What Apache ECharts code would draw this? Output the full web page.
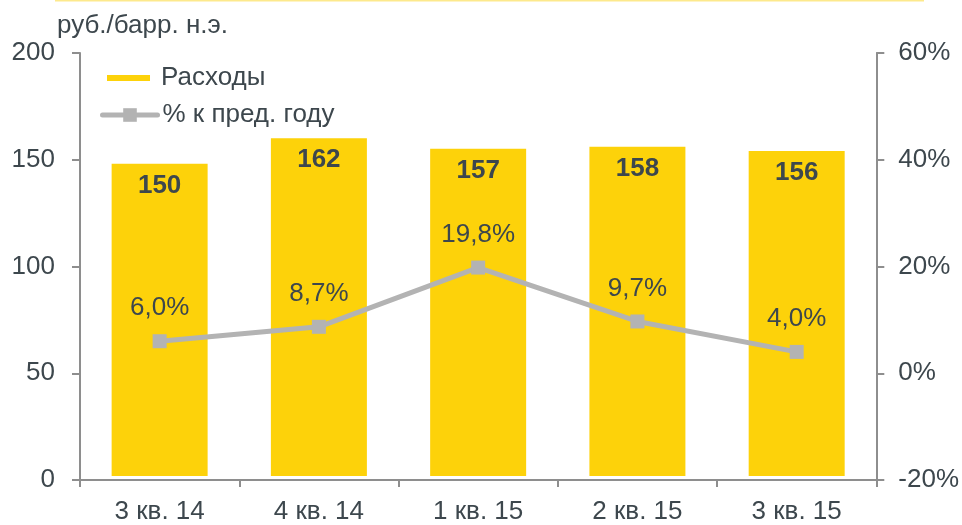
<!DOCTYPE html>
<html>
<head>
<meta charset="utf-8">
<script src="https://cdn.jsdelivr.net/npm/echarts@6/dist/echarts.min.js"></script>
<style>
html,body{margin:0;padding:0;background:#fff;}
#chart{width:962px;height:525px;}
</style>
</head>
<body>
<div id="chart"></div>
<script>
const categories = ['3 кв. 14', '4 кв. 14', '1 кв. 15', '2 кв. 15', '3 кв. 15'];
const expenses = [150, 162, 157, 158, 156];
const growthPct = [6.0, 8.7, 19.8, 9.7, 4.0];
const leftTicks = { min: 0, max: 200, interval: 50 };
const rightTicks = { min: -20, max: 60, interval: 20 };

const FONT = '"Liberation Sans", Arial, sans-serif';
const TXT = '#3D474D';
const AX = '#8E8E8E';
const FS = 26;

const chart = echarts.init(document.getElementById('chart'));
chart.setOption({
  animation: false,
  backgroundColor: '#fff',
  textStyle: { fontFamily: FONT },
  title: {
    text: 'руб./барр. н.э.',
    left: 52, top: 8,
    textStyle: { fontFamily: FONT, fontSize: FS, fontWeight: 'normal', color: TXT }
  },
  graphic: [{
    type: 'line',
    shape: { x1: 55, y1: 0.5, x2: 924, y2: 0.5 },
    style: { stroke: '#FDE98C', lineWidth: 2 }
  }],
  legend: [{
    data: ['Расходы'],
    left: 100, top: 60,
    itemWidth: 45, itemHeight: 8,
    icon: 'rect',
    textStyle: { fontFamily: FONT, fontSize: FS, color: TXT, padding: [0, 0, 0, 5] }
  }, {
    data: ['% к пред. году'],
    left: 95, top: 97,
    itemWidth: 55, itemHeight: 17,
    lineStyle: { width: 5, cap: 'round' },
    textStyle: { fontFamily: FONT, fontSize: FS, color: TXT }
  }],
  grid: { left: 80, right: 82, top: 53, bottom: 42.5 },
  xAxis: {
    type: 'category',
    data: categories,
    z: 5,
    axisLine: { lineStyle: { color: AX, width: 2 } },
    axisTick: { show: true, length: 7, lineStyle: { color: AX, width: 2 } },
    axisLabel: { fontFamily: FONT, fontSize: FS, color: TXT, margin: 19 }
  },
  yAxis: [{
    type: 'value',
    min: leftTicks.min, max: leftTicks.max, interval: leftTicks.interval,
    axisLine: { show: true, lineStyle: { color: AX, width: 2 } },
    axisTick: { show: true, length: 8, lineStyle: { color: AX, width: 2 } },
    splitLine: { show: false },
    axisLabel: { fontFamily: FONT, fontSize: FS, color: TXT, margin: 25 }
  }, {
    type: 'value',
    position: 'right',
    min: rightTicks.min, max: rightTicks.max, interval: rightTicks.interval,
    axisLine: { show: true, lineStyle: { color: AX, width: 2 } },
    axisTick: { show: true, length: 8, lineStyle: { color: AX, width: 2 } },
    splitLine: { show: false },
    axisLabel: { fontFamily: FONT, fontSize: FS, color: TXT, margin: 22, formatter: '{value}%' }
  }],
  series: [{
    name: 'Расходы',
    type: 'bar',
    data: expenses,
    barWidth: 104,
    itemStyle: { color: '#FDD20A', borderColor: '#ffffff', borderWidth: 4 },
    label: {
      show: true, position: 'insideTop', distance: 13,
      fontFamily: FONT, fontSize: FS, fontWeight: 'bold', color: TXT
    }
  }, {
    name: '% к пред. году',
    type: 'line',
    yAxisIndex: 1,
    data: growthPct,
    symbol: 'rect',
    symbolSize: 14,
    itemStyle: { color: '#B3B3B3' },
    lineStyle: { color: '#B3B3B3', width: 5 },
    label: {
      show: true, position: 'top', distance: 13,
      fontFamily: FONT, fontSize: FS, color: TXT,
      formatter: p => p.value.toFixed(1).replace('.', ',') + '%'
    }
  }]
});
</script>
</body>
</html>
